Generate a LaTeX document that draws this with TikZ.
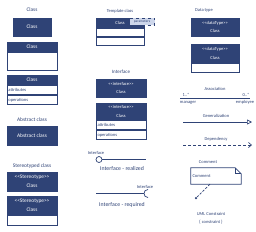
\documentclass[tikz,border=0pt]{standalone}
\usepackage{fontspec}
\setmainfont{Carlito}
\usetikzlibrary{positioning,arrows.meta}
\definecolor{umlnavy}{RGB}{47,67,118}
\definecolor{umlpale}{RGB}{205,214,234}
\newcommand\ltlt{<\kern0pt<}
\newcommand\gtgt{>\kern0pt>}

\begin{document}
\begin{tikzpicture}[
  x=1pt, y=-1pt,
  font=\fontsize{4.5}{8.5}\selectfont,
  caption/.style={text=umlnavy, inner sep=0pt},
  large/.style={font=\fontsize{5.4}{9}\selectfont},
  head/.style={draw=umlnavy, fill=umlnavy, text=white, line width=0.8pt, minimum width=50pt, minimum height=10pt, inner sep=0pt, align=center},
  part/.style={draw=umlnavy, fill=white, line width=0.8pt, text=umlnavy, minimum height=9pt, inner ysep=0pt, inner xsep=1.5pt, text width=47pt, align=left},
  link/.style={draw=umlnavy, line width=0.7pt}
]
\useasboundingbox (0,0) rectangle (256,231);

% classes
\node[caption, large] (clsCap) at (32,10) {Class};
\node[head, large, minimum width=38pt, minimum height=18pt] (clsA) at (32,27) {Class};
\node[head, large] (clsB) at (32,47) {Class};
\node[part, minimum height=18pt, below=0pt of clsB] (clsBbody) {};
\node[head, large] (clsC) at (32,80) {Class};
\node[part, below=0pt of clsC] (clsCattr) {attributes};
\node[part, below=0pt of clsCattr] (clsCop) {operations};
\node[caption, large] (absCap) at (32,120) {Abstract class};
\node[head, large, minimum height=19pt] (abs) at (32,135.5) {Abstract class};
\node[caption, large] (stCap) at (32,166) {Stereotyped class};
\node[head, large, minimum height=19pt] (stA) at (32,181.5) {\ltlt Stereotype\gtgt\\Class};
\node[head, large, minimum height=19pt] (stB) at (32,205.5) {\ltlt Stereotype\gtgt\\Class};
\node[part, minimum height=10pt, below=0pt of stB] (stBbody) {};

% template and interfaces
\node[caption] (tplCap) at (120,11) {Template class};
\node[head, minimum width=48pt] (tpl) at (120,23) {Class};
\node[part, minimum height=8pt, text width=45pt, below=0pt of tpl] (tplA) {};
\node[part, minimum height=8pt, text width=45pt, below=0pt of tplA] (tplB) {};
\node[draw=umlnavy, dashed, fill=umlpale, text=umlnavy, minimum width=25pt, minimum height=7pt, inner sep=0pt, font=\fontsize{3.5}{4}\selectfont] (tplPar) at (142,21.5) {parameters};
\node[caption, font=\fontsize{5}{8}\selectfont] (ifCap) at (121,72) {Interface};
\node[head, minimum height=18pt] (ifA) at (121,88) {\ltlt interface\gtgt\\Class};
\node[head, minimum height=17pt] (ifB) at (121,111.5) {\ltlt interface\gtgt\\Class};
\node[part, below=0pt of ifB] (ifBattr) {attributes};
\node[part, below=0pt of ifBattr] (ifBop) {operations};

% lollipop and socket
\node[caption] (reCap) at (96,153) {Interface};
\node[circle, draw=umlnavy, fill=white, line width=0.7pt, minimum size=6pt, inner sep=0pt] (reBall) at (99,159.5) {};
\coordinate (reEnd) at (146,159.5);
\draw[link] (reBall) -- (reEnd);
\node[caption, font=\fontsize{5.8}{8}\selectfont] (reTxt) at (122,168.5) {Interface - realized};
\node[caption] (rqCap) at (145,187) {Interface};
\coordinate (rqStart) at (96,193.5);
\coordinate (rqSock) at (144,193.5);
\draw[link] (rqStart) -- (rqSock);
\draw[link] (148,189.5) .. controls (142.7,189.5) and (142.7,197.5) .. (148,197.5);
\node[caption, font=\fontsize{5.8}{8}\selectfont] (rqTxt) at (122,205) {Interface - required};

% data types
\node[caption] (dtCap) at (204,10) {Data type};
\node[head, minimum width=48pt, minimum height=18pt] (dtA) at (215,27) {\ltlt dataType\gtgt\\Class};
\node[head, minimum width=48pt, minimum height=19pt] (dtB) at (215,53.5) {\ltlt dataType\gtgt\\Class};
\node[part, text width=45pt, below=0pt of dtB] (dtBbody) {};

% relations
\node[caption] (asCap) at (215,89) {Association};
\coordinate (asL) at (180,98);
\coordinate (asR) at (250,98);
\draw[link] (asL) -- (asR);
\node[caption] (asMulL) at (186,95) {1..*};
\node[caption] (asMulR) at (246,95) {0..*};
\node[caption] (asRoleL) at (188,102.5) {manager};
\node[caption] (asRoleR) at (245,102.5) {employee};
\node[caption] (genCap) at (216,116) {Generalization};
\coordinate (genL) at (183,122);
\coordinate (genR) at (252,122);
\draw[link, -{Triangle[open, length=5pt, width=5pt]}] (genL) -- (genR);
\node[caption] (depCap) at (216,139) {Dependency};
\coordinate (depL) at (183,145);
\coordinate (depR) at (252,145);
\draw[link, dash pattern=on 3pt off 2pt, -{Straight Barb[length=3pt, width=5pt]}] (depL) -- (depR);

% comment and constraint
\node[caption] (cmCap) at (208,162) {Comment};
\node[text=umlnavy, minimum width=50pt, minimum height=16pt, inner sep=1.5pt, text width=47pt, align=left] (note) at (216,176) {Comment};
\draw[link] (note.north west) -- ([xshift=-6pt]note.north east) -- ([yshift=-6pt]note.north east) -- (note.south east) -- (note.south west) -- cycle;
\draw[link] ([xshift=-6pt]note.north east) -- ([xshift=-6pt, yshift=-6pt]note.north east) -- ([yshift=-6pt]note.north east);
\node[circle, fill=umlnavy, minimum size=2.5pt, inner sep=0pt] (cnDot) at (196,198) {};
\draw[link, dash pattern=on 2.5pt off 1.5pt] ([xshift=-6pt]note.south) -- (cnDot);
\node[caption, align=center] (cnTxt) at (211,218) {UML Constraint\\\{ constraint \}};
\end{tikzpicture}
\end{document}
